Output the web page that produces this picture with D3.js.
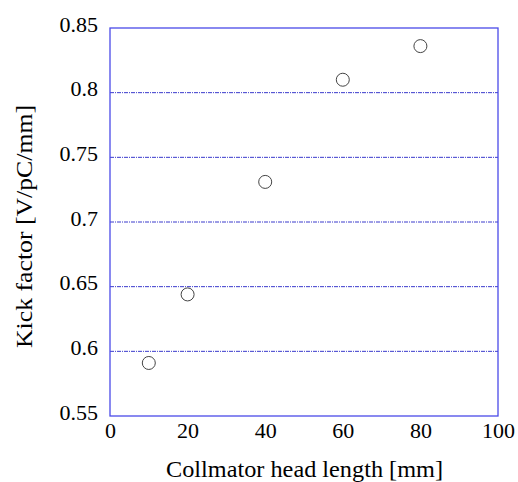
<!DOCTYPE html>
<html>
<head>
<meta charset="utf-8">
<script src="https://cdn.jsdelivr.net/npm/d3@7"></script>
<style>
  body { margin: 0; background: #fff; }
  text { font-family: "Liberation Serif", "Times New Roman", serif; fill: #000; }
</style>
</head>
<body>
<script>
var headLength = [10, 20, 40, 60, 80];
var kickFactor = [0.591, 0.644, 0.731, 0.810, 0.836];
var xTicks = [0, 20, 40, 60, 80, 100];
var yTicks = [0.55, 0.6, 0.65, 0.7, 0.75, 0.8, 0.85];
var gridValues = [0.6, 0.65, 0.7, 0.75, 0.8];

var width = 518, height = 482;
var margin = { left: 110, right: 20, top: 28, bottom: 66 };
var w = width - margin.left - margin.right,
    h = height - margin.top - margin.bottom;
var serif = "'Liberation Serif', 'Times New Roman', serif";

var x = d3.scaleLinear().domain([0, 100]).range([0, w]);
var y = d3.scaleLinear().domain([0.55, 0.85]).range([h, 0]);

var svg = d3.select("body").append("svg").attr("width", width).attr("height", height);
var g = svg.append("g").attr("transform", "translate(" + margin.left + "," + margin.top + ")");

// grid
g.selectAll(".grid").data(gridValues).enter().append("line")
    .attr("x1", 0).attr("x2", w)
    .attr("y1", function(d) { return y(d); })
    .attr("y2", function(d) { return y(d); })
    .attr("stroke", "#3a3acc")
    .attr("stroke-width", 1)
    .attr("stroke-dasharray", "4,1,1,1");

// frame
g.append("rect").attr("width", w).attr("height", h)
    .attr("fill", "none").attr("stroke", "#4a4ae8").attr("stroke-width", 1.3);

// axes (labels only)
var xAxis = d3.axisBottom(x).tickValues(xTicks).tickSize(0).tickPadding(6);
g.append("g").attr("transform", "translate(0," + h + ")").call(xAxis)
    .attr("font-family", serif).attr("font-size", 22)
    .call(function(s) { s.select(".domain").remove(); });

var yAxis = d3.axisLeft(y).tickValues(yTicks).tickSize(0).tickPadding(12)
    .tickFormat(function(d) { return String(+d.toFixed(2)); });
g.append("g").call(yAxis)
    .attr("font-family", serif).attr("font-size", 22)
    .call(function(s) { s.select(".domain").remove(); })
    .selectAll("text").attr("dy", "0.14em");

// points
g.selectAll(".pt").data(headLength).enter().append("circle")
    .attr("cx", function(d) { return x(d); })
    .attr("cy", function(d, i) { return y(kickFactor[i]); })
    .attr("r", 6.5)
    .attr("fill", "#fff")
    .attr("stroke", "#444")
    .attr("stroke-width", 1);

// axis titles
svg.append("text")
    .attr("x", 166).attr("y", 477)
    .attr("textLength", 277).attr("lengthAdjust", "spacingAndGlyphs")
    .style("font-size", "24px")
    .text("Collmator head length [mm]");

svg.append("text")
    .attr("transform", "translate(32,348) rotate(-90)")
    .attr("textLength", 243).attr("lengthAdjust", "spacingAndGlyphs")
    .style("font-size", "24px")
    .text("Kick factor [V/pC/mm]");
</script>
</body>
</html>
